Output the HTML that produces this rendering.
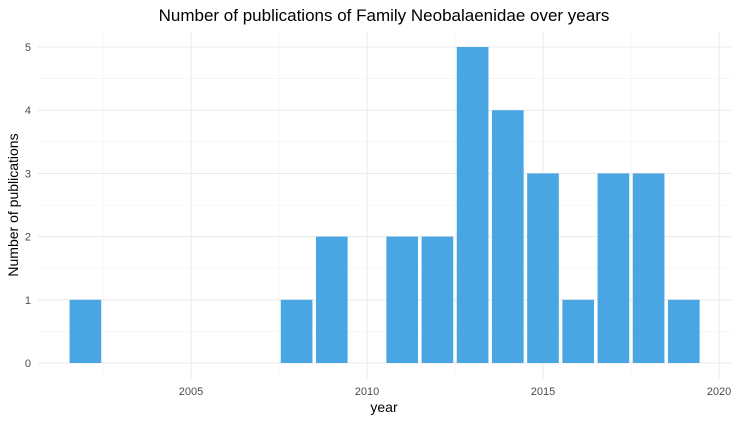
<!DOCTYPE html>
<html><head><meta charset="utf-8"><style>
body{margin:0;background:#fff;}
svg{display:block;font-family:"Liberation Sans",sans-serif;}
</style></head><body>
<svg id="chart" width="739" height="421">
<text x="384" y="21" text-anchor="middle" font-size="17" fill="#000">Number of publications of Family Neobalaenidae over years</text>
<g id="grid"></g>
<g id="bars"></g>
<g id="ticks"></g>
<text x="384" y="412" text-anchor="middle" font-size="14" fill="#000">year</text>
<text transform="translate(18,205) rotate(-90)" text-anchor="middle" font-size="14" fill="#000">Number of publications</text>
</svg>
<script>
const years = [2002, 2008, 2009, 2011, 2012, 2013, 2014, 2015, 2016, 2017, 2018, 2019];
const counts = [1, 1, 2, 2, 2, 5, 4, 3, 1, 3, 3, 1];
const xTicks = [2005, 2010, 2015, 2020];
const yTicks = [0, 1, 2, 3, 4, 5];

const NS = "http://www.w3.org/2000/svg";
const xMin = 2000.65, xMax = 2020.35, px0 = 37.9, px1 = 731.3;
const yMin = -0.25, yMax = 5.25, py0 = 378.8, py1 = 31.2;
const xs = v => px0 + (v - xMin) / (xMax - xMin) * (px1 - px0);
const ys = v => py0 + (v - yMin) / (yMax - yMin) * (py1 - py0);
function mk(tag, attrs, parent){const e=document.createElementNS(NS,tag);for(const k in attrs)e.setAttribute(k,attrs[k]);document.getElementById(parent).appendChild(e);return e;}

// minor grid
for (let v = 0.5; v < 5.25; v += 1) {
  const l = mk('line',{x1:px0,x2:px1,y1:ys(v),y2:ys(v),stroke:'#f2f2f2','stroke-width':0.6},'grid');
  
  
}
for (let v = 2002.5; v < 2020.35; v += 5) {
  const l = mk('line',{x1:xs(v),x2:xs(v),y1:py0,y2:py1,stroke:'#f2f2f2','stroke-width':0.6},'grid');
  
  
}
yTicks.forEach(v => {
  const l = mk('line',{x1:px0,x2:px1,y1:ys(v),y2:ys(v),stroke:'#ebebeb','stroke-width':1.1},'grid');
  
  
  const t = mk('text',{x:31,y:ys(v)+4,'text-anchor':'end','font-size':11,fill:'#4d4d4d'},'ticks');
  t.textContent = v;
  
  
});
xTicks.forEach(v => {
  const l = mk('line',{x1:xs(v),x2:xs(v),y1:py0,y2:py1,stroke:'#ebebeb','stroke-width':1.1},'grid');
  
  
  const t = mk('text',{x:xs(v),y:395,'text-anchor':'middle','font-size':11,fill:'#4d4d4d'},'ticks');
  t.textContent = v;
  
  
});
years.forEach((yr, i) => {
  const w = (xs(1) - xs(0)) * 0.9;
  const r = mk('rect',{x:xs(yr)-w/2,y:ys(counts[i]),width:w,height:ys(0)-ys(counts[i]),fill:'#4aa6e3'},'bars');
  
  
});
</script>
</body></html>
